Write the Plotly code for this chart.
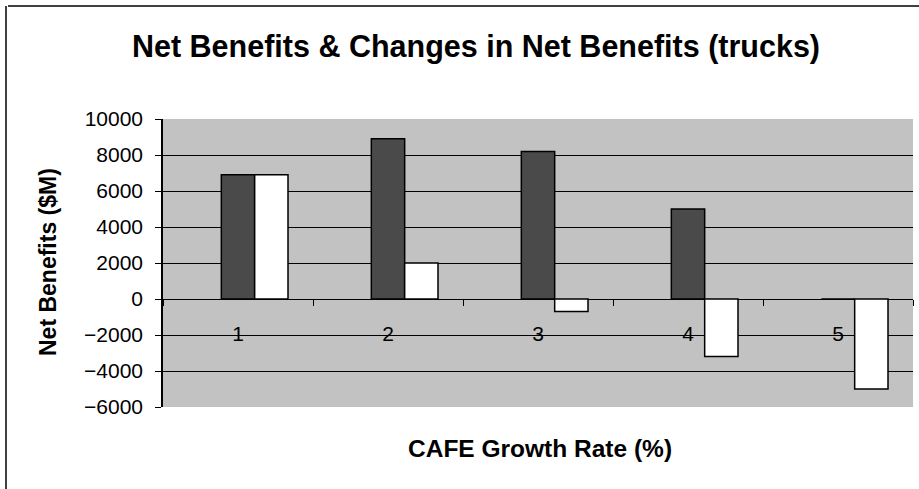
import plotly.graph_objects as go

# ---- data ----
categories = ["1", "2", "3", "4", "5"]
net_benefits = [6900, 8900, 8200, 5000, 0]
change_in_net_benefits = [6900, 2000, -700, -3200, -5000]
y_tick_values = [-6000, -4000, -2000, 0, 2000, 4000, 6000, 8000, 10000]
y_range = [-6000, 10000]

title_text = "Net Benefits & Changes in Net Benefits (trucks)"
x_title = "CAFE Growth Rate (%)"
y_title = "Net Benefits ($M)"

# ---- layout geometry ----
W, H = 919, 489
ml, mr, mt, mb = 163, 6, 119, 82
pw, ph = W - ml - mr, H - mt - mb

FONT = "Liberation Sans, Arial, sans-serif"

# Excel style: 3 slots per category (first series empty), gap width 150%
bar_w = 1 / 4.5

fig = go.Figure()
fig.add_trace(go.Bar(
    x=categories, y=net_benefits, name="Net Benefits",
    width=bar_w, offset=-0.5 * bar_w,
    marker=dict(color="#4a4a4a", line=dict(color="black", width=1.5)),
    showlegend=False,
))
fig.add_trace(go.Bar(
    x=categories, y=change_in_net_benefits, name="Change in Net Benefits",
    width=bar_w, offset=0.5 * bar_w,
    marker=dict(color="white", line=dict(color="black", width=1.5)),
    showlegend=False,
))

zero_pos = (0 - y_range[0]) / (y_range[1] - y_range[0])

fig.update_layout(
    width=W, height=H,
    margin=dict(l=ml, r=mr, t=mt, b=mb, pad=0),
    paper_bgcolor="white",
    plot_bgcolor="#c2c2c2",
    barmode="overlay",
    font=dict(family=FONT, color="black"),
    title=dict(
        text=f"<b>{title_text}</b>",
        x=476 / W, xanchor="center",
        y=1 - 46 / H, yanchor="middle",
        font=dict(size=30.5, family=FONT, color="black"),
    ),
    xaxis=dict(
        type="category",
        anchor="free", position=zero_pos,
        showline=False, showgrid=False, zeroline=False,
        ticks="outside", tickson="boundaries", ticklen=6, tickwidth=1, tickcolor="black",
        tickfont=dict(size=21, family=FONT, color="black"),
        ticklabelstandoff=20,
        range=[-0.5, len(categories) - 0.5],
    ),
    yaxis=dict(
        range=y_range,
        tickvals=y_tick_values,
        tickformat="d",
        showgrid=True, gridcolor="black", gridwidth=1,
        zeroline=True, zerolinecolor="black", zerolinewidth=1,
        showline=True, linecolor="black", linewidth=1.5,
        ticks="outside", ticklen=6, tickcolor="black",
        tickfont=dict(size=21, family=FONT, color="black"),
        ticklabelstandoff=8,
    ),
    annotations=[
        dict(text=f"<b>{x_title}</b>", xref="paper", yref="paper",
             x=(540 - ml) / pw, y=-(448 - mt - ph) / ph,
             xanchor="center", yanchor="middle", showarrow=False,
             font=dict(size=24.5, family=FONT, color="black")),
        dict(text=f"<b>{y_title}</b>", xref="paper", yref="paper",
             x=(48 - ml) / pw, y=0.5 - (262 - mt - ph / 2) / ph,
             xanchor="center", yanchor="middle", textangle=-90, showarrow=False,
             font=dict(size=23, family=FONT, color="black")),
    ],
    shapes=[
        # outer chart frame (top and left edges)
        dict(type="line", xref="paper", yref="paper",
             x0=(8 - ml) / pw, x1=(W - ml) / pw,
             y0=1 + (mt - 6) / ph, y1=1 + (mt - 6) / ph,
             line=dict(color="black", width=1.5)),
        dict(type="line", xref="paper", yref="paper",
             x0=(6 - ml) / pw, x1=(6 - ml) / pw,
             y0=1 + (mt - 6) / ph, y1=-(mb) / ph,
             line=dict(color="black", width=1.5)),
    ],
)

fig.write_html("out.html", config={"displayModeBar": False},
               post_script="document.body.style.margin='0';")
